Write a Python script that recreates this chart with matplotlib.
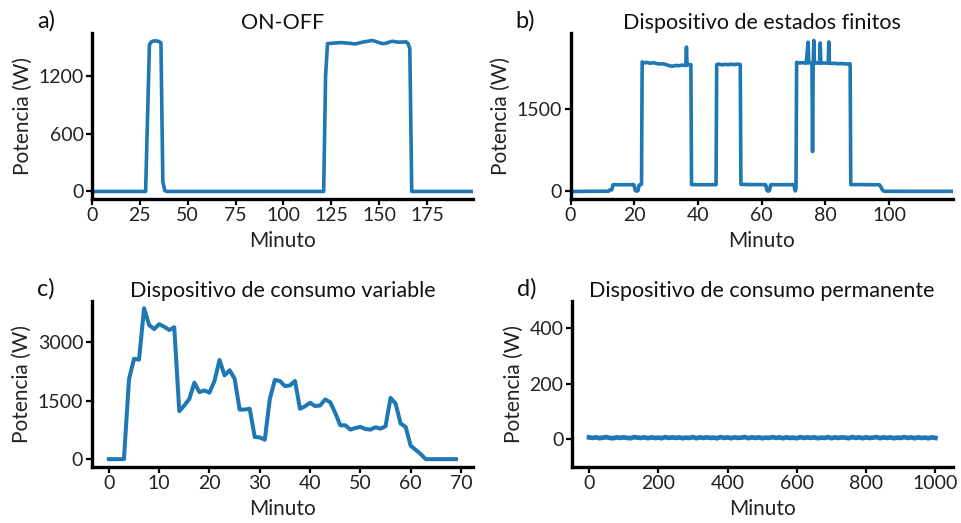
import matplotlib
matplotlib.use("Agg")
import matplotlib.pyplot as plt
import numpy as np

plt.rcParams['font.family'] = ['Lato', 'DejaVu Sans']

BLUE = '#1f77b4'

# ---------------- data ----------------
# a) ON-OFF (one value per minute, 0..199)
a_minutes = list(range(0, 200))
a_on1_start, a_on1 = 29, [780, 1530, 1560, 1568, 1570, 1568, 1562, 1550, 100, 10]
a_on2_start, a_on2 = 121, [0, 1200, 1541, 1543, 1545, 1546, 1547, 1548, 1550, 1552, 1550,
                           1548, 1546, 1545, 1544, 1540, 1538, 1540, 1545, 1550, 1555,
                           1558, 1562, 1566, 1570, 1573, 1570, 1565, 1558, 1550, 1544,
                           1541, 1543, 1548, 1555, 1562, 1565, 1562, 1558, 1556, 1557,
                           1558, 1557, 1560, 1545, 1490, 0]
a_power = [0.0] * 200
for i, v in enumerate(a_on1):
    a_power[a_on1_start + i] = v
for i, v in enumerate(a_on2):
    a_power[a_on2_start + i] = v

# b) finite-state device (minute, watts) breakpoints
b_minutes = [0, 12.0, 12.4, 13.0, 13.3, 13.6, 16, 19.8, 20.0, 20.3, 20.8, 21.2, 21.5, 21.9, 22.3,
             22.5, 23, 24, 25, 26, 27, 28, 29, 30, 31, 32, 33, 34, 35, 36.2, 36.4, 36.6, 37.2, 37.8,
             38.0, 42, 45.7,
             45.9, 46.5, 47.5, 48.5, 49.5, 50.5, 51.5, 52.5, 53.3,
             53.5, 57, 61.2, 61.4, 61.7, 62.1, 62.5, 62.8, 63.0, 67, 70.2, 70.4, 70.6, 70.8,
             71.0, 72, 73, 74.0, 74.6, 74.8, 75.0, 75.8, 76.0, 76.2, 76.4, 76.6, 76.8, 77.5,
             78.2, 78.4, 78.6, 79.5, 80.9, 81.1, 81.3, 82, 83, 84, 85, 86, 87, 87.8,
             88.0, 92, 97.0, 97.4, 97.8, 98.2, 98.6, 105, 112, 120]
b_power = [0, 5, 30, 30, 120, 125, 122, 125, 110, 20, 5, 15, 110, 125, 130,
           2370, 2350, 2360, 2345, 2355, 2340, 2330, 2335, 2320, 2300, 2290, 2305, 2300, 2310, 2305, 2640, 2310, 2320, 2318,
           125, 123, 125,
           2320, 2330, 2315, 2325, 2318, 2328, 2320, 2330, 2322,
           130, 125, 125, 100, 20, 5, 20, 110, 125, 123, 125, 40, 10, 60,
           2360, 2350, 2355, 2345, 2730, 2350, 2355, 2350, 730, 2350, 2760, 2350, 2345, 2350,
           2350, 2715, 2345, 2350, 2345, 2735, 2345, 2340, 2345, 2335, 2340, 2335, 2330, 2335,
           125, 125, 122, 90, 40, 12, 3, 2, 2, 2]

# c) variable-consumption device (one value per minute, 0..69)
c_minutes = list(range(0, 70))
c_power = [0, 0, 0, 0, 2050, 2580, 2560, 3880, 3450, 3345, 3470, 3405, 3320, 3390,
           1235, 1380, 1550, 1965, 1725, 1765, 1710, 2010, 2550, 2155, 2285, 2070,
           1275, 1275, 1295, 570, 560, 500, 1550, 2035, 2010, 1880, 1895, 2010, 1295,
           1360, 1450, 1365, 1380, 1535, 1465, 1190, 870, 870, 760, 800, 830, 775, 760,
           820, 785, 845, 1575, 1430, 915, 830, 345, 240, 130, 0, 0, 0, 0, 0, 0, 0]

# d) permanent-consumption device (every 10 minutes, 0..1000)
d_minutes = list(range(0, 1001, 10))
d_power = [6, 4, 6, 3, 5, 7, 4, 3, 6, 4, 6, 4, 3, 7, 5, 4, 6, 3, 6, 4,
           5, 3, 7, 4, 6, 4, 6, 3, 5, 4, 7, 3, 6, 4, 6, 4, 5, 3, 7, 4,
           6, 3, 6, 4, 5, 7, 3, 6, 4, 6, 3, 5, 4, 7, 4, 6, 3, 6, 4, 5,
           3, 7, 4, 6, 4, 6, 3, 5, 4, 7, 3, 6, 4, 6, 5, 3, 7, 4, 6, 3,
           6, 4, 5, 7, 3, 6, 4, 6, 3, 5, 4, 7, 4, 6, 3, 6, 4, 5, 3, 6, 4]

titles = ['ON-OFF', 'Dispositivo de estados finitos',
          'Dispositivo de consumo variable', 'Dispositivo de consumo permanente']
letters = ['a)', 'b)', 'c)', 'd)']
a_yticks = [0, 600, 1200]
a_xticks = [0, 25, 50, 75, 100, 125, 150, 175]
b_yticks = [0, 1500]
b_xticks = [0, 20, 40, 60, 80, 100]
c_yticks = [0, 1500, 3000]
c_xticks = [0, 10, 20, 30, 40, 50, 60, 70]
d_yticks = [0, 200, 400]
d_xticks = [0, 200, 400, 600, 800, 1000]

# ---------------- figure ----------------
W, H = 961, 523
fig = plt.figure(figsize=(W / 100, H / 100), dpi=100)

def px_axes(l, t, r, b):
    return fig.add_axes([l / W, 1 - b / H, (r - l) / W, (b - t) / H])

axA = px_axes(92, 33, 473, 199)
axB = px_axes(570.5, 33, 952.7, 199)
axC = px_axes(91.5, 300.7, 473.3, 466.7)
axD = px_axes(571.7, 300.7, 952.7, 466.7)
axes = [axA, axB, axC, axD]

LW = 2.6
axA.plot(a_minutes, a_power, color=BLUE, lw=LW, solid_joinstyle='round')
axA.set_xlim(a_minutes[0], a_minutes[-1])
axA.set_xticks(a_xticks)
axA.set_yticks(a_yticks)

axB.plot(b_minutes, b_power, color=BLUE, lw=LW, solid_joinstyle='round')
axB.set_xlim(b_minutes[0], b_minutes[-1])
axB.set_xticks(b_xticks)
axB.set_yticks(b_yticks)

axC.plot(c_minutes, c_power, color=BLUE, lw=LW + 0.3, solid_joinstyle='round')
axC.set_xticks(c_xticks)
axC.set_yticks(c_yticks)

axD.plot(d_minutes, d_power, color=BLUE, lw=3.4, solid_joinstyle='round')
axD.set_ylim(-100, 500)
axD.set_xticks(d_xticks)
axD.set_yticks(d_yticks)

for ax, title, letter in zip(axes, titles, letters):
    ax.spines['top'].set_visible(False)
    ax.spines['right'].set_visible(False)
    for s in ('left', 'bottom'):
        ax.spines[s].set_linewidth(2.4)
        ax.spines[s].set_color('black')
    ax.tick_params(axis='both', direction='out', length=4, width=1.6,
                   labelsize=14, pad=2, colors='black', labelcolor='#222222')
    ax.set_xlabel('Minuto', fontsize=15, color='#222222', labelpad=5)
    ax.set_ylabel('Potencia (W)', fontsize=15, color='#222222', labelpad=4)
    ax.set_title(title, fontsize=15.5, color='#111111', pad=3)
    pos = ax.get_position()
    fig.text(pos.x0 - 55 / W, pos.y1 + 12 / H, letter, fontsize=17,
             color='#111111', va='center', ha='left')

fig.savefig('out.png', dpi=100)
